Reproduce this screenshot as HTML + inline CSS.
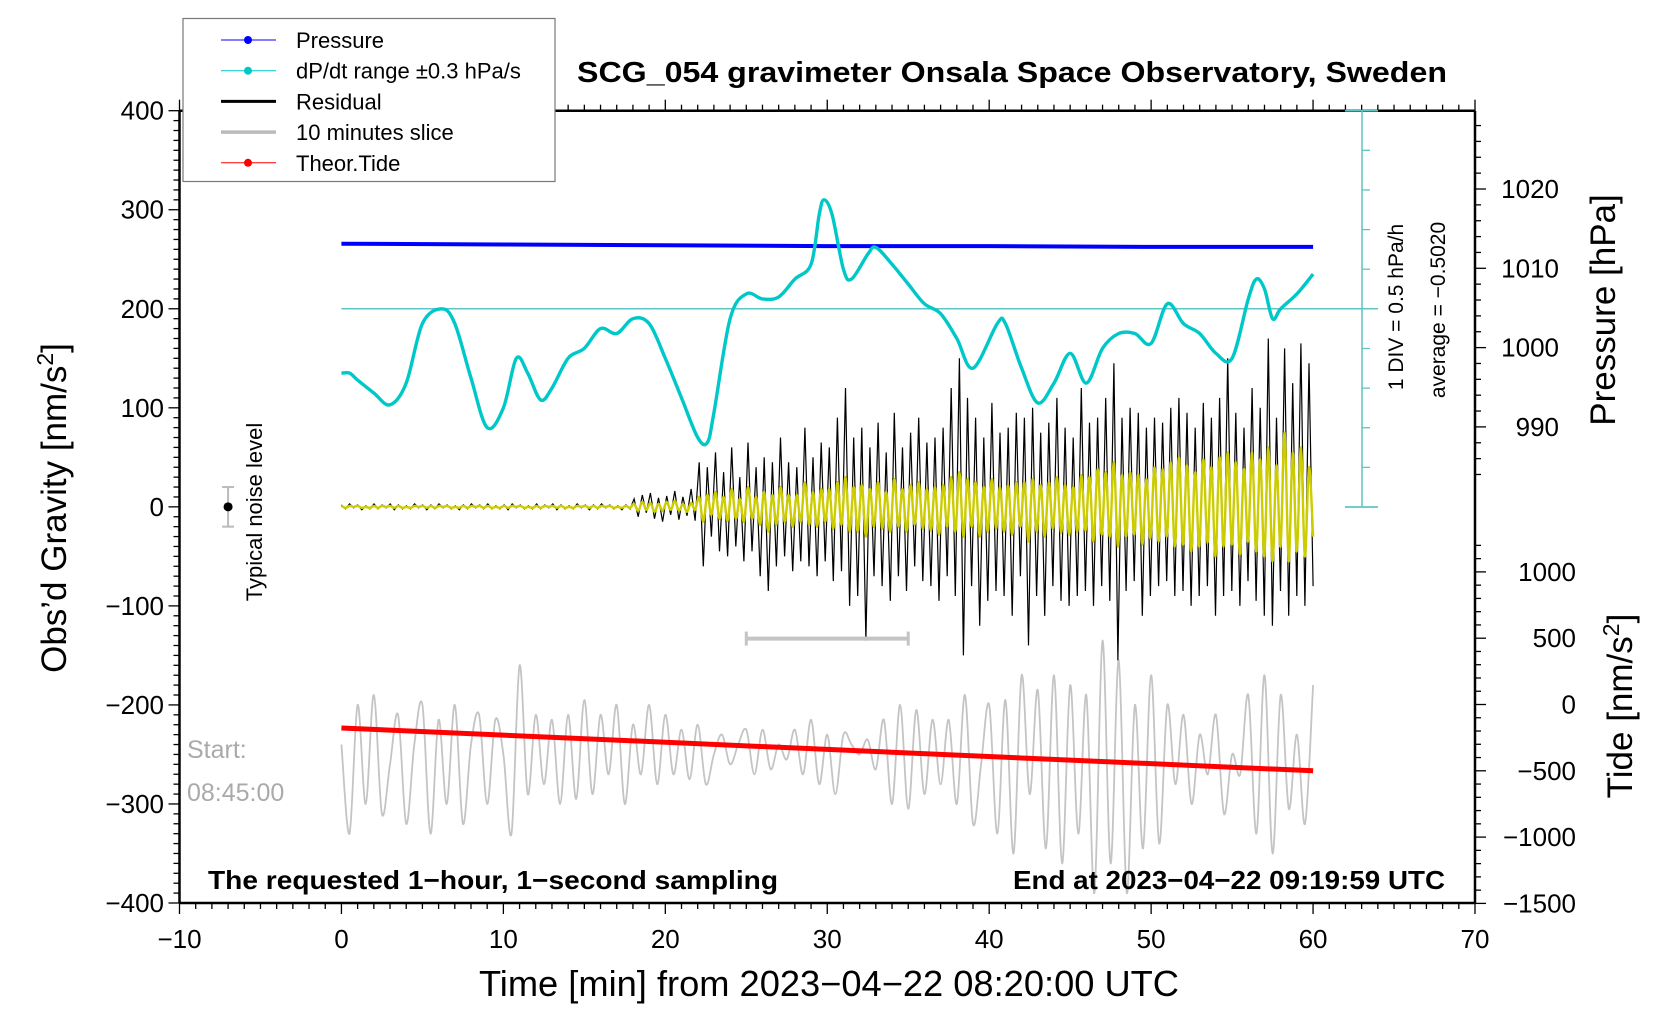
<!DOCTYPE html>
<html><head><meta charset="utf-8">
<style>
html,body{margin:0;padding:0;background:#fff;}
svg{display:block;font-family:"Liberation Sans",Arial,sans-serif;}
</style></head>
<body>
<svg id="chart" width="1676" height="1020" viewBox="0 0 1676 1020" xmlns="http://www.w3.org/2000/svg">
<rect x="0" y="0" width="1676" height="1020" fill="#fff"/>
<g id="marks"></g>
<g id="axes"></g>
</svg>
<script>
const NS="http://www.w3.org/2000/svg";
// ---- data ----
const xTicks=[-10,0,10,20,30,40,50,60,70];
const yTicks=[400,300,200,100,0,-100,-200,-300,-400];
const yTickLabels=["400","300","200","100","0","\u2212100","\u2212200","\u2212300","\u2212400"];
const xTickLabels=["\u221210","0","10","20","30","40","50","60","70"];
const pTicks=[1020,1010,1000,990];
const tideTicks=[1000,500,0,-500,-1000,-1500];
const tideTickLabels=["1000","500","0","\u2212500","\u22121000","\u22121500"];
const dpdtT=[0,0.5,1,2,3,4,5,6.2,7,8,9,10,10.8,11.5,12.3,13,14,15,16,17,18,19,20,21,22,22.6,23,24,25,26,27,28,29,29.5,29.8,30.3,31,31.5,32.5,33,34,35,36,37,38,39,40.5,41,42,43,44,45,46,47,48,49,50,51,52,53,54,55,56,56.5,57,57.5,58,59,60];
const dpdtV=[135,135,128,115,103,125,185,200,185,130,80,100,150,135,108,120,150,160,180,175,190,185,150,110,70,65,95,190,215,210,212,230,245,295,310,295,240,230,255,262,245,225,205,195,170,140,185,185,140,105,125,155,125,160,175,175,165,205,185,175,155,150,210,230,220,190,200,215,235];
const pressT=[0,10,20,30,40,50,60];
const pressV=[1013.1,1013.0,1012.9,1012.8,1012.8,1012.7,1012.7];
const tideT=[0,60];
const tideV=[-177,-500];
const resid=[2,-2,3,-1,2,-3,1,-2,3,-2,2,-1,3,-3,2,-2,1,-2,3,-1,2,-3,2,-2,3,-1,2,-2,1,-3,2,-2,3,-1,2,-2,
3,-2,1,-2,2,-3,3,-1,2,-2,1,-2,3,-2,2,-1,3,-3,2,-2,1,-2,3,-1,2,-3,2,-2,3,-1,2,-2,1,-3,2,-2,
8,-10,12,-6,14,-12,9,-15,11,-8,16,-13,10,-9,18,-14,
45,-60,40,-30,55,-45,35,-50,60,-40,30,-55,65,-45,40,-70,
50,-85,45,-60,70,-50,45,-65,40,-55,80,-60,50,-70,65,-55,
60,-75,90,-65,120,-100,70,-90,80,-135,60,-70,85,-80,55,-95,
95,-70,60,-85,75,-60,90,-75,65,-80,70,-95,80,-70,120,-90,
150,-150,110,-80,90,-120,70,-95,105,-85,75,-90,80,-110,95,-70,
90,-140,100,-90,75,-110,85,-80,110,-95,80,-100,70,-90,120,-85,
85,-100,90,-80,110,-95,145,-155,90,-85,100,-75,95,-110,80,-90,
90,-80,85,-75,100,-90,110,-85,95,-100,80,-90,105,-80,90,-110,
110,-90,150,-85,95,-100,80,-75,120,-95,100,-110,170,-120,90,-85,
160,-110,125,-90,165,-100,145,-80];
const yellow=[1,-1,1,0,1,-1,0,-1,1,-1,1,0,1,-1,1,-1,0,-1,1,0,1,-1,1,-1,1,0,1,-1,0,-1,1,-1,1,0,1,-1,
1,-1,0,-1,1,-1,1,0,1,-1,0,-1,1,-1,1,0,1,-1,1,-1,0,-1,1,0,1,-1,1,-1,1,0,1,-1,0,-1,1,-1,
3,-4,5,-3,4,-5,3,-4,5,-3,6,-4,3,-5,4,-3,
10,-15,12,-8,15,-12,10,-14,18,-12,8,-15,20,-12,10,-18,
15,-25,12,-18,20,-15,12,-20,12,-15,25,-18,15,-20,18,-15,
18,-22,25,-18,30,-25,20,-25,22,-30,18,-20,25,-22,15,-25,
28,-20,18,-25,22,-18,25,-22,18,-24,20,-28,22,-20,30,-25,
35,-30,28,-20,25,-30,20,-25,28,-22,20,-25,22,-28,25,-20,
25,-35,28,-25,22,-30,25,-22,30,-26,22,-28,20,-25,32,-24,
30,-35,38,-28,35,-30,45,-40,32,-30,35,-28,33,-38,28,-32,
40,-35,38,-30,45,-40,50,-38,42,-45,35,-40,48,-36,40,-50,
50,-40,55,-38,45,-48,38,-35,55,-45,48,-50,60,-55,42,-40,
75,-55,55,-45,60,-50,40,-30];
const grey=[-240,-330,-200,-300,-190,-310,-260,-210,-320,-240,-200,-330,-215,-300,-200,-320,-240,-210,-300,-215,
-250,-330,-160,-290,-210,-280,-215,-300,-210,-295,-195,-290,-210,-270,-200,-300,-220,-270,-200,-280,
-210,-270,-225,-275,-220,-280,-250,-230,-260,-240,-225,-270,-225,-265,-240,-255,-225,-270,-215,-280,
-230,-290,-230,-240,-250,-235,-265,-215,-300,-200,-305,-205,-290,-215,-280,-215,-300,-190,-320,-260,
-200,-330,-195,-350,-170,-290,-185,-345,-170,-360,-180,-330,-190,-390,-135,-360,-155,-390,-200,-345,
-170,-340,-200,-280,-210,-300,-230,-270,-210,-310,-250,-270,-190,-330,-170,-350,-190,-305,-230,-320,-180];
// ---- scales ----
const X0=179.5,X1=1475,Y0=110.7,Y1=903;
function sx(m){return X0+(m+10)/80*(X1-X0);}
function sy(v){return Y1-(v+400)/800*(Y1-Y0);}
function sp(p){return 189+(1020-p)*7.93;}
function st(t){return 704.5-t*0.1326;}
const marks=document.getElementById('marks');
const axes=document.getElementById('axes');
function mk(tag,attrs,parent){const e=document.createElementNS(NS,tag);for(const k in attrs)e.setAttribute(k,attrs[k]);(parent||marks).appendChild(e);return e;}
function polyPts(xs,ys){return xs.map((x,i)=>x.toFixed(1)+','+ys[i].toFixed(1)).join(' ');}
function smoothPath(xs,ys){let d='M'+xs[0].toFixed(1)+','+ys[0].toFixed(1);
 for(let i=0;i<xs.length-1;i++){const i0=Math.max(0,i-1),i3=Math.min(xs.length-1,i+2);
  const c1x=xs[i]+(xs[i+1]-xs[i0])/6,c1y=ys[i]+(ys[i+1]-ys[i0])/6;
  const c2x=xs[i+1]-(xs[i3]-xs[i])/6,c2y=ys[i+1]-(ys[i3]-ys[i])/6;
  d+=' C'+c1x.toFixed(1)+','+c1y.toFixed(1)+' '+c2x.toFixed(1)+','+c2y.toFixed(1)+' '+xs[i+1].toFixed(1)+','+ys[i+1].toFixed(1);}
 return d;}

let e=mk('line',{x1:sx(0),y1:sy(200),x2:1378,y2:sy(200),stroke:'#5fc4c4','stroke-width':1.5});



e=mk('path',{d:smoothPath(grey.map((v,i)=>sx(i*60/(grey.length-1))),grey.map(v=>sy(v))),fill:'none',stroke:'#c4c4c4','stroke-width':1.8});



e=mk('polyline',{points:polyPts(resid.map((v,i)=>sx(i*60/(resid.length-1))),resid.map(v=>sy(v))),fill:'none',stroke:'#000','stroke-width':1.2});


e=mk('path',{d:smoothPath(yellow.map((v,i)=>sx(i*60/(yellow.length-1))),yellow.map(v=>sy(v))),fill:'none',stroke:'#cccc00','stroke-width':2.4});



e=mk('polyline',{points:polyPts(tideT.map(sx),tideV.map(st)),fill:'none',stroke:'#ff0000','stroke-width':5});



e=mk('polyline',{points:polyPts(pressT.map(sx),pressV.map(sp)),fill:'none',stroke:'#0000ff','stroke-width':4});



e=mk('path',{d:smoothPath(dpdtT.map(sx),dpdtV.map(sy)),fill:'none',stroke:'#00c8c8','stroke-width':3.4});



// ---- axes ----
function ln(x1,y1,x2,y2,c,w,name){const l=mk('line',{x1:x1,y1:y1,x2:x2,y2:y2,stroke:c,'stroke-width':w},axes);if(name){}return l;}
function tx(x,y,s,attrs,name){const t=mk('text',Object.assign({x:x,y:y},attrs),axes);t.textContent=s;return t;}
ln(X0,Y0,X0,Y1,'#000',2.5,'left-axis');
ln(X0,Y1,X1,Y1,'#000',2.5,'bottom-axis');
ln(X0,Y0,X1,Y0,'#000',2.5,'top-axis');
ln(X1,Y0,X1,Y1,'#000',2.5,'right-axis');
for(let m=-10;m<=70;m++){const major=m%10===0;ln(sx(m),Y1,sx(m),Y1+(major?11:6),'#000',1.3);ln(sx(m),Y0,sx(m),Y0-(major?11:6),'#000',1.3);}
for(let v=-400;v<=400;v+=10){const major=v%100===0;ln(X0,sy(v),X0-(major?11:6),sy(v),'#000',1.3);}
xTicks.forEach((m,i)=>tx(sx(m),948,xTickLabels[i],{'font-size':26,'text-anchor':'middle'},'x-tick-label'));
yTicks.forEach((v,i)=>tx(164,sy(v)+9,yTickLabels[i],{'font-size':26,'text-anchor':'end'},'y-tick-label'));
for(let p=1032;p>=984;p-=2){const y=sp(p);if(y<Y0||y>Y1*0.6)continue;ln(X1,y,X1+(p%10===0?11:6),y,'#000',1.3);}
pTicks.forEach(p=>tx(1559,sp(p)+9,String(p),{'font-size':26,'text-anchor':'end'},'pressure-tick-label'));
for(let t=1300;t>=-1500;t-=100){const y=st(t);if(y>Y1+1||y<540)continue;ln(X1,y,X1+(t%500===0?11:6),y,'#000',1.3);}
tideTicks.forEach((t,i)=>tx(1576,st(t)+9,tideTickLabels[i],{'font-size':26,'text-anchor':'end'},'tide-tick-label'));
ln(1362,Y0,1362,507,'#5fc4c4',1.5,'dpdt-scale-axis');
for(let k=1;k<10;k++){const y=Y0+k*(507-Y0)/10;ln(1362,y,1370,y,'#5fc4c4',1.3);}
ln(1345,507,1378,507,'#5fc4c4',1.8);ln(1345,Y0,1378,Y0,'#5fc4c4',1.8);
tx(0,0,'1 DIV = 0.5 hPa/h',{'font-size':21,'text-anchor':'middle',transform:'translate(1403,307) rotate(-90)'},'dpdt-scale-label');
tx(0,0,'average = \u22120.5020',{'font-size':21,'text-anchor':'middle',transform:'translate(1445,310) rotate(-90)'},'dpdt-average-label');
tx(1012,82,'SCG_054 gravimeter Onsala Space Observatory, Sweden',{'font-size':29,'font-weight':'bold','text-anchor':'middle',textLength:870,lengthAdjust:'spacingAndGlyphs'},'chart-title');
tx(829,996,'Time [min] from 2023\u221204\u221222 08:20:00 UTC',{'font-size':36,'text-anchor':'middle',textLength:700,lengthAdjust:'spacingAndGlyphs'},'x-axis-title');
const lt=tx(0,0,'',{'font-size':35,'text-anchor':'middle',transform:'translate(66,508) rotate(-90)'},'y-axis-title');
lt.innerHTML='Obs\u2019d Gravity [nm/s<tspan baseline-shift="super" font-size="23">2</tspan>]';
tx(0,0,'Pressure [hPa]',{'font-size':35,'text-anchor':'middle',transform:'translate(1615,310) rotate(-90)'},'pressure-axis-title');
const tt=tx(0,0,'',{'font-size':35,'text-anchor':'middle',transform:'translate(1632,706) rotate(-90)'},'tide-axis-title');
tt.innerHTML='Tide [nm/s<tspan baseline-shift="super" font-size="23">2</tspan>]';
tx(208,889,'The requested 1\u2212hour, 1\u2212second sampling',{'font-size':26,'font-weight':'bold',textLength:570,lengthAdjust:'spacingAndGlyphs'},'sampling-note');
tx(1013,889,'End at 2023\u221204\u221222 09:19:59 UTC',{'font-size':26,'font-weight':'bold',textLength:432,lengthAdjust:'spacingAndGlyphs'},'end-time-note');
tx(187,758,'Start:',{'font-size':25,fill:'#aaa'},'start-label');
tx(187,801,'08:45:00',{'font-size':25,fill:'#aaa'},'start-time-label');
tx(0,0,'Typical noise level',{'font-size':22,'text-anchor':'middle',transform:'translate(262,512) rotate(-90)'},'noise-level-label');
ln(sx(-7),sy(20),sx(-7),sy(-20),'#bbb',2,'noise-error-bar');
ln(sx(-7)-6,sy(20),sx(-7)+6,sy(20),'#bbb',2);ln(sx(-7)-6,sy(-20),sx(-7)+6,sy(-20),'#bbb',2);
let d=mk('circle',{cx:sx(-7),cy:sy(0),r:4.5,fill:'#000'},axes);


ln(sx(25),sy(-133),sx(35),sy(-133),'#c4c4c4',4,'slice-bracket');
ln(sx(25),sy(-133)-7,sx(25),sy(-133)+7,'#c4c4c4',3);ln(sx(35),sy(-133)-7,sx(35),sy(-133)+7,'#c4c4c4',3);
const lg=document.createElementNS(NS,'g');axes.appendChild(lg);
mk('rect',{x:183,y:18.5,width:372,height:163,fill:'#fff',stroke:'#777','stroke-width':1.2},lg);
const legNames=['Pressure','dP/dt range \u00b10.3 hPa/s','Residual','10 minutes slice','Theor.Tide'];
const legCols=['#0000ff','#00c8c8','#000','#bbb','#ff0000'];
const legW=[1,1,3,3.5,1];const legDot=[1,1,0,0,1];
legNames.forEach((n,i)=>{const y=40+i*30.7;
 const l=mk('line',{x1:221,y1:y,x2:276,y2:y,stroke:legCols[i],'stroke-width':legW[i]},lg);
 
 
 if(legDot[i]){const c=mk('circle',{cx:248,cy:y,r:4,fill:legCols[i]},lg);}
 const t=mk('text',{x:296,y:y+8,'font-size':22},lg);t.textContent=n;
 
 
});
</script>
</body></html>
